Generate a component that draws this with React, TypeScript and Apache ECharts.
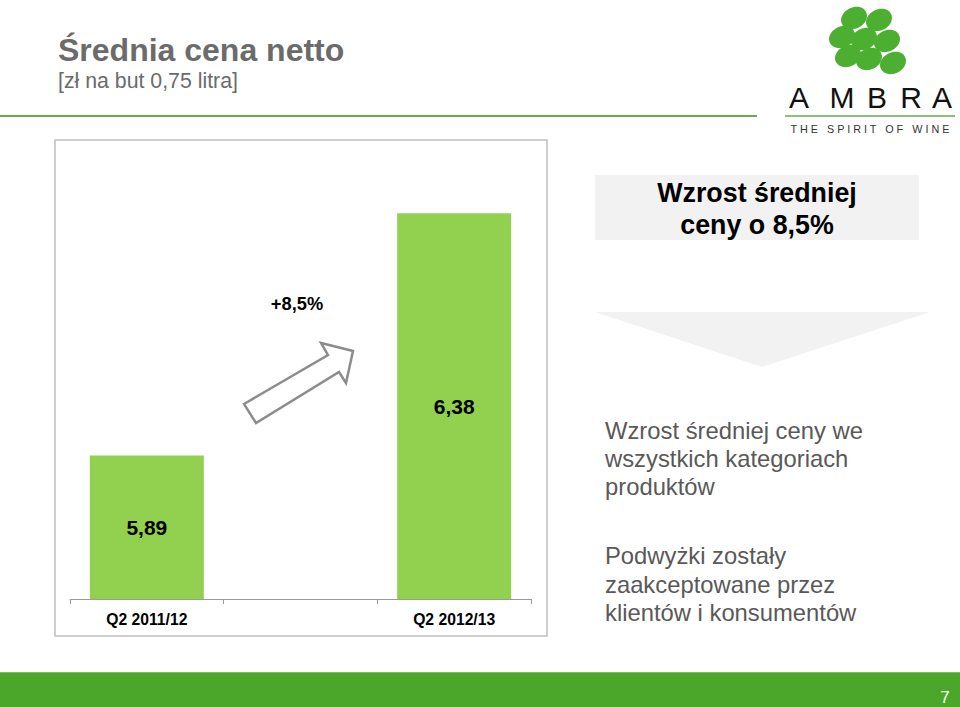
import React, { useEffect, useRef } from "react";
import * as echarts from "echarts";

const categories = ["Q2 2011/12", "", "Q2 2012/13"];
const values: (number | string)[] = [5.89, "-", 6.38];
const axisMin = 5.6;
const axisMax = 6.5;

const FONT = "'Liberation Sans', Arial, sans-serif";

export default function App() {
  const ref = useRef<HTMLDivElement>(null);
  useEffect(() => {
    if (!ref.current) return;
    const chart = echarts.init(ref.current, null, { renderer: "svg" });
    const ellipses = [
      [854, 18], [879, 20], [842, 37], [864, 39], [887, 41], [848, 56], [869, 59], [893, 63],
    ];
    const ambra = [
      ["A", 799], ["M", 842], ["B", 877], ["R", 911], ["A", 942],
    ];
    const option: any = {
      animation: false,
      backgroundColor: "#ffffff",
      grid: { left: 70, right: 429, top: 154, bottom: 108, containLabel: false },
      xAxis: {
        type: "category",
        data: categories,
        boundaryGap: true,
        axisLine: { lineStyle: { color: "#9a9a9a", width: 1 } },
        axisTick: { show: true, length: 5, alignWithLabel: false, interval: 0, lineStyle: { color: "#9a9a9a" } },
        axisLabel: { interval: 0, margin: 12, color: "#000", fontWeight: "bold", fontSize: 15.7, fontFamily: FONT },
      },
      yAxis: {
        type: "value",
        min: axisMin,
        max: axisMax,
        show: false,
        splitLine: { show: false },
      },
      series: [
        {
          type: "bar",
          data: values,
          barWidth: 114,
          itemStyle: { color: "#92d050" },
          label: {
            show: true,
            position: "inside",
            color: "#000",
            fontWeight: "bold",
            fontSize: 21,
            fontFamily: FONT,
            formatter: (p: any) => String(p.value).replace(".", ","),
          },
        },
      ],
      graphic: [
        // header
        { type: "text", left: 58, top: 34, style: { text: "Średnia cena netto", font: `bold 32px ${FONT}`, fill: "#6b6b6b" } },
        { type: "text", left: 58, top: 70, style: { text: "[zł na but 0,75 litra]", font: `21.3px ${FONT}`, fill: "#6b6b6b" } },
        { type: "line", shape: { x1: 0, y1: 116, x2: 757, y2: 116 }, style: { stroke: "#6aaa50", lineWidth: 2 } },
        // chart frame
        { type: "rect", shape: { x: 55, y: 140, width: 492, height: 496 }, style: { fill: "none", stroke: "#bfbfbf", lineWidth: 1.5 }, z: -1 },
        { type: "text", x: 297, y: 303, style: { text: "+8,5%", font: `bold 18.3px ${FONT}`, fill: "#000", align: "center", verticalAlign: "middle" } },
        {
          type: "polygon",
          shape: { points: [[244, 404], [328, 355], [321, 343], [353, 351], [346, 383], [339, 372], [256, 423]] },
          style: { fill: "#ffffff", stroke: "#8c8c8c", lineWidth: 2.5 },
        },
        // right panel
        { type: "rect", shape: { x: 595, y: 175, width: 324, height: 65 }, style: { fill: "#f2f2f2" } },
        { type: "text", x: 757, y: 193, style: { text: "Wzrost średniej", font: `bold 26.8px ${FONT}`, fill: "#000", align: "center", verticalAlign: "middle" } },
        { type: "text", x: 757, y: 225, style: { text: "ceny o 8,5%", font: `bold 26.8px ${FONT}`, fill: "#000", align: "center", verticalAlign: "middle" } },
        { type: "polygon", shape: { points: [[595, 312], [930, 312], [762, 367]] }, style: { fill: "#f2f2f2" } },
        ...[
          ["Wzrost średniej ceny we", 430],
          ["wszystkich kategoriach", 458],
          ["produktów", 486],
          ["Podwyżki zostały", 555],
          ["zaakceptowane przez", 584],
          ["klientów i konsumentów", 612],
        ].map(([t, y]) => ({
          type: "text", x: 605, y: y as number,
          style: { text: t as string, font: `23.8px ${FONT}`, fill: "#595959", verticalAlign: "middle" },
        })),
        // logo
        ...ellipses.map(([cx, cy]) => ({
          type: "ellipse", x: cx, y: cy, rotation: 0.45,
          shape: { cx: 0, cy: 0, rx: 13.5, ry: 10.5 },
          style: { fill: "#4caf32" },
        })),
        ...ambra.map(([ch, x]) => ({
          type: "text", x: x as number, y: 97,
          style: { text: ch as string, font: `30px ${FONT}`, fill: "#111", align: "center", verticalAlign: "middle" },
        })),
        { type: "line", shape: { x1: 785, y1: 116, x2: 955, y2: 116 }, style: { stroke: "#6aaa50", lineWidth: 1.5 } },
        { type: "text", x: 870, y: 129, style: { text: "T H E   S P I R I T   O F   W I N E", font: `10.8px ${FONT}`, fill: "#333", align: "center", verticalAlign: "middle" } },
        // footer
        { type: "rect", shape: { x: 0, y: 672, width: 960, height: 35 }, style: { fill: "#4aa72a" } },
        { type: "line", shape: { x1: 0, y1: 672.5, x2: 960, y2: 672.5 }, style: { stroke: "#79c060", lineWidth: 1 } },
        { type: "text", x: 945, y: 697, style: { text: "7", font: `17px ${FONT}`, fill: "#ffffff", align: "center", verticalAlign: "middle" } },
      ],
    };
    chart.setOption(option);
    return () => chart.dispose();
  }, []);
  return <div ref={ref} style={{ position: "fixed", left: 0, top: 0, width: 960, height: 707 }} />;
}
